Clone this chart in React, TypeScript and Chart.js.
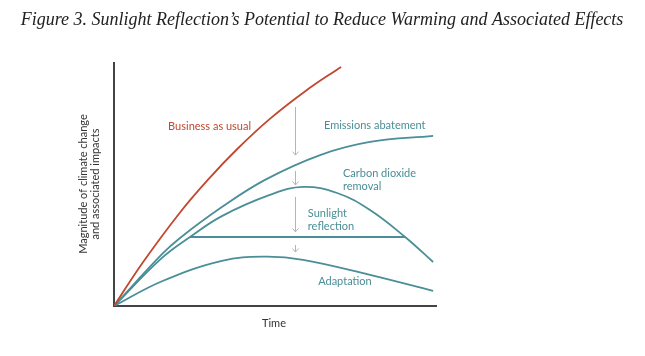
import React, { useEffect, useRef } from "react";
import { Chart, registerables } from "chart.js";

Chart.register(...registerables);

// Data (x: time 0..100, y: magnitude 0..100)
const businessAsUsual = [
  { x: 0, y: 0 }, { x: 9, y: 18.0 }, { x: 20.5, y: 38.5 }, { x: 29.2, y: 52.0 },
  { x: 38.2, y: 64.5 }, { x: 48.4, y: 77.0 }, { x: 59.5, y: 88.5 }, { x: 70.5, y: 98.4 },
];
const emissionsAbatement = [
  { x: 0, y: 0 }, { x: 14.9, y: 21.3 }, { x: 20.5, y: 28.0 }, { x: 33.5, y: 40.7 },
  { x: 46.9, y: 51.9 }, { x: 64.0, y: 62.1 }, { x: 79.5, y: 67.5 }, { x: 99.1, y: 70.0 },
];
const carbonDioxideRemoval = [
  { x: 0, y: 0 }, { x: 14.9, y: 19.8 }, { x: 23.6, y: 28.4 }, { x: 33.5, y: 37.0 },
  { x: 48.4, y: 45.7 }, { x: 58.7, y: 49.0 }, { x: 69.3, y: 46.5 }, { x: 79.5, y: 39.5 },
  { x: 90.4, y: 28.4 }, { x: 99.1, y: 18.1 },
];
const sunlightReflection = [
  { x: 23.6, y: 28.4 }, { x: 90.4, y: 28.4 },
];
const adaptation = [
  { x: 0, y: 0 }, { x: 14.9, y: 10.2 }, { x: 33.5, y: 18.6 }, { x: 47.0, y: 20.3 },
  { x: 58.7, y: 19.0 }, { x: 79.5, y: 12.8 }, { x: 99.1, y: 6.2 },
];

// Downward arrows: [x, yFrom, yTo]
const arrows: [number, number, number][] = [
  [56.2, 81.9, 62.1],
  [56.2, 55.6, 49.8],
  [56.2, 44.9, 30.5],
  [56.2, 25.1, 22.2],
];

// Curve labels: [lines, x, y, colour]
const RED = "#c2472f";
const TEAL = "#4a8e97";
const curveLabels: [string[], number, number, string][] = [
  [["Business as usual"], 16.8, 73.7, RED],
  [["Emissions abatement"], 65.2, 74.1, TEAL],
  [["Carbon dioxide", "removal"], 71.1, 54.7, TEAL],
  [["Sunlight", "reflection"], 60.2, 37.9, TEAL],
  [["Adaptation"], 63.4, 10.3, TEAL],
];

const TITLE = "Figure 3. Sunlight Reflection\u2019s Potential to Reduce Warming and Associated Effects";
const X_TITLE = "Time";
const Y_TITLE = ["Magnitude of climate change", "and associated impacts"];

const SANS = "Lato, 'Noto Sans', sans-serif";

const annotationPlugin = {
  id: "annotations",
  afterDatasetsDraw(chart: any) {
    const { ctx, scales, chartArea } = chart;
    const xs = scales.x;
    const ys = scales.y;
    ctx.save();
    // arrows
    ctx.strokeStyle = "#b5b5b5";
    ctx.lineWidth = 1;
    for (const [x, y1, y2] of arrows) {
      const px = Math.round(xs.getPixelForValue(x)) + 0.5;
      const p1 = ys.getPixelForValue(y1);
      const p2 = ys.getPixelForValue(y2);
      ctx.beginPath();
      ctx.moveTo(px, p1);
      ctx.lineTo(px, p2);
      ctx.moveTo(px - 3, p2 - 3.5);
      ctx.lineTo(px, p2);
      ctx.lineTo(px + 3, p2 - 3.5);
      ctx.stroke();
    }
    // curve labels
    ctx.font = `11px ${SANS}`;
    ctx.textBaseline = "middle";
    ctx.textAlign = "left";
    for (const [lines, x, y, color] of curveLabels) {
      ctx.fillStyle = color;
      const px = xs.getPixelForValue(x);
      const py = ys.getPixelForValue(y);
      lines.forEach((t, i) => ctx.fillText(t, px, py + i * 13));
    }
    // axis titles
    ctx.fillStyle = "#333";
    ctx.textAlign = "center";
    ctx.fillText(X_TITLE, 274, chartArea.bottom + 17);
    ctx.translate(chartArea.left - 25, 184);
    ctx.rotate(-Math.PI / 2);
    Y_TITLE.forEach((t, i) => ctx.fillText(t, 0, -6 + i * 12));
    ctx.restore();

    // title
    ctx.save();
    ctx.fillStyle = "#222";
    ctx.font = "italic 18px 'Liberation Serif', serif";
    ctx.textAlign = "center";
    ctx.textBaseline = "middle";
    ctx.fillText(TITLE, 322, 20);
    ctx.restore();
  },
};

export default function App() {
  const ref = useRef<HTMLCanvasElement>(null);
  useEffect(() => {
    if (!ref.current) return;
    const line = (data: any[], color: string) => ({
      data,
      borderColor: color,
      borderWidth: 1.8,
      pointRadius: 0,
      fill: false,
      tension: 0.4,
    });
    const chart = new Chart(ref.current, {
      type: "line",
      data: {
        datasets: [
          line(businessAsUsual, RED),
          line(emissionsAbatement, TEAL),
          line(carbonDioxideRemoval, TEAL),
          line(sunlightReflection, TEAL),
          line(adaptation, TEAL),
        ],
      },
      options: {
        animation: false,
        responsive: false,
        events: [],
        layout: { padding: { left: 114, right: 209, top: 63, bottom: 50 } },
        plugins: { legend: { display: false }, tooltip: { enabled: false }, title: { display: false } },
        scales: {
          x: {
            type: "linear",
            min: 0,
            max: 100,
            grid: { display: false, drawTicks: false },
            border: { display: true, color: "#444", width: 2 },
            ticks: { display: false },
          },
          y: {
            type: "linear",
            min: 0,
            max: 100,
            grid: { display: false, drawTicks: false },
            border: { display: true, color: "#444", width: 2 },
            ticks: { display: false },
          },
        },
      },
      plugins: [annotationPlugin],
    });
    return () => chart.destroy();
  }, []);
  return (
    <div style={{ position: "fixed", left: 0, top: 0, width: 645, height: 356, background: "#fff" }}>
      <canvas ref={ref} width={645} height={356} style={{ width: 645, height: 356, display: "block" }} />
    </div>
  );
}
